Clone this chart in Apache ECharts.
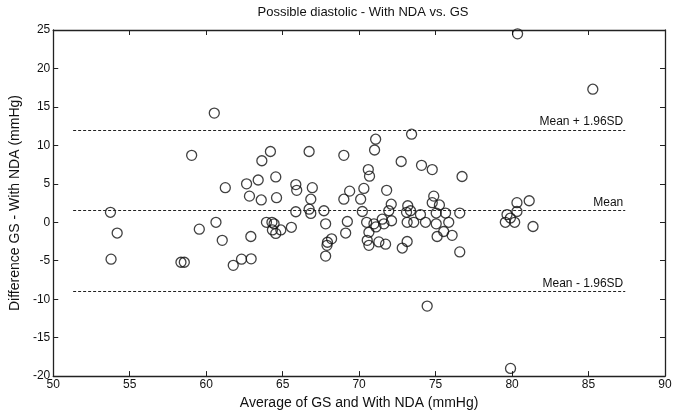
<!DOCTYPE html>
<html>
<head>
<meta charset="utf-8">
<script src="https://cdn.jsdelivr.net/npm/echarts@6/dist/echarts.min.js"></script>
<style>
  html, body { margin: 0; padding: 0; background: #fff; }
  #chart { width: 680px; height: 415px; }
</style>
</head>
<body>
<div id="chart"></div>
<script>
// Bland-Altman: average of the two methods vs. their difference
var avgValues = [
  53.74, 54.18, 53.78, 58.35, 58.57, 59.05, 59.55, 60.53, 60.64, 61.05,
  61.25, 61.77, 62.31, 62.64, 62.83, 62.92, 62.94, 63.40, 63.60, 63.64,
  63.94, 64.20, 64.30, 64.44, 64.33, 64.55, 64.55, 64.60, 64.88, 65.57,
  65.86, 65.92, 65.86, 66.73, 66.94, 66.84, 66.73, 66.84, 67.70, 67.81,
  68.20, 67.93, 67.90, 67.81, 69.00, 69.23, 69.12, 69.00, 69.38, 70.10,
  70.31, 70.60, 70.68, 70.21, 70.49, 70.53, 70.64, 70.64, 70.97, 71.10,
  71.01, 71.08, 71.51, 71.62, 71.29, 71.73, 72.10, 71.94, 72.12, 71.80,
  72.75, 72.82, 73.14, 73.18, 73.36, 73.10, 73.14, 73.57, 73.43, 74.01,
  74.34, 74.45, 74.08, 74.78, 74.88, 74.78, 75.25, 75.04, 75.65, 75.04,
  75.10, 75.53, 75.86, 76.08, 76.58, 76.58, 76.73, 79.56, 79.67, 79.89,
  80.17, 80.32, 80.32, 81.12, 81.37, 80.36, 85.28, 79.90
];
var diffValues = [
   1.3, -1.4, -4.8, -5.2, -5.2,  8.7, -0.9, 14.2,  0.0, -2.35,
   4.5, -5.6, -4.8,  5.0,  3.4, -1.85, -4.75, 5.5,  2.9,  8.0,
   0.0,  9.2,  0.0, -0.2, -1.0, -1.45,  5.9,  3.2, -1.0, -0.65,
   4.9,  4.15, 1.37, 9.2,  4.5,  3.0,  1.7,  1.15, 1.5, -0.2,
  -2.15, -2.6, -3.0, -4.4, 8.7,  0.1, -1.4,  3.0,  4.05, 3.0,
   4.4,  6.85, 6.0,  1.4,  0.0, -2.35, -3.0, -1.3, -0.2, -0.6,
   9.4, 10.8,  0.4, -0.2, -2.55, -2.85, 2.35, 1.5,  0.2,  4.15,
   7.9, -3.35, -2.5, 2.15, 1.5,  1.3,  0.0,  0.0, 11.45, 1.0,
   0.0, -10.9, 7.4,  6.85, 3.4,  2.55, 2.25, 1.2,  1.2, -0.2,
  -1.85, -1.2, 0.0, -1.7,  1.2, -3.85, 5.95, 0.0,  1.0,  0.55,
   0.0,  1.4,  2.55, 2.8, -0.55, 24.5, 17.3, -19.0
];

// Mean difference and limits of agreement
var meanDiff = 1.5;
var upperLimit = 12.0;
var lowerLimit = -9.0;
var limitLabels = ['Mean + 1.96SD', 'Mean', 'Mean - 1.96SD'];
var limitStartX = 51.3;
var limitEndX = 87.4;

var xTicks = { min: 50, max: 90, step: 5 };
var yTicks = { min: -20, max: 25, step: 5 };

var points = avgValues.map(function (x, i) { return [x, diffValues[i]]; });

var FONT = 'Liberation Sans, Arial, sans-serif';
var INK = '#222';

function limitLine(y, text) {
  return [
    { coord: [limitStartX, y] },
    { coord: [limitEndX, y], label: { formatter: text } }
  ];
}

function frameAxis(extra) {
  return Object.assign({
    type: 'value',
    axisLine: { show: true, onZero: false, lineStyle: { color: INK, width: 1.3 } },
    axisTick: { show: true, inside: true, length: 5, lineStyle: { color: INK, width: 1 } },
    splitLine: { show: false }
  }, extra);
}

var chart = echarts.init(document.getElementById('chart'), null, { renderer: 'canvas' });
chart.setOption({
  animation: false,
  backgroundColor: '#fff',
  textStyle: { fontFamily: FONT },
  title: {
    text: 'Possible diastolic - With NDA vs. GS',
    left: 358, top: 1, textAlign: 'center',
    textStyle: { fontFamily: FONT, fontSize: 13, fontWeight: 'normal', color: '#111' }
  },
  grid: { left: 52, right: 15, top: 30, bottom: 34 },
  xAxis: [
    frameAxis({
      position: 'bottom',
      min: xTicks.min, max: xTicks.max, interval: xTicks.step,
      name: 'Average of GS and With NDA (mmHg)',
      nameLocation: 'middle', nameGap: 18,
      nameTextStyle: { fontFamily: FONT, fontSize: 14, color: '#111' },
      axisLabel: { fontFamily: FONT, fontSize: 12, color: '#111', margin: 3 }
    }),
    frameAxis({
      position: 'top',
      min: xTicks.min, max: xTicks.max, interval: xTicks.step,
      axisLabel: { show: false }
    })
  ],
  yAxis: [
    frameAxis({
      position: 'left',
      min: yTicks.min, max: yTicks.max, interval: yTicks.step,
      name: 'Difference GS - With NDA (mmHg)',
      nameLocation: 'middle', nameGap: 27,
      nameTextStyle: { fontFamily: FONT, fontSize: 14, color: '#111' },
      axisLabel: { fontFamily: FONT, fontSize: 12, color: '#111', margin: 3 }
    }),
    frameAxis({
      position: 'right',
      min: yTicks.min, max: yTicks.max, interval: yTicks.step,
      axisLabel: { show: false }
    })
  ],
  series: [{
    type: 'scatter',
    xAxisIndex: 0, yAxisIndex: 0,
    data: points,
    symbol: 'circle',
    symbolSize: 10,
    itemStyle: { color: 'rgba(0,0,0,0)', borderColor: '#111', borderWidth: 1.3 },
    emphasis: { disabled: true },
    markLine: {
      silent: true,
      symbol: ['none', 'none'],
      lineStyle: { type: [3, 2], color: INK, width: 1 },
      label: {
        show: true, position: 'insideEndTop', distance: 2,
        fontFamily: FONT, fontSize: 12, color: '#111'
      },
      data: [
        limitLine(upperLimit, limitLabels[0]),
        limitLine(meanDiff, limitLabels[1]),
        limitLine(lowerLimit, limitLabels[2])
      ]
    }
  }]
});
</script>
</body>
</html>
